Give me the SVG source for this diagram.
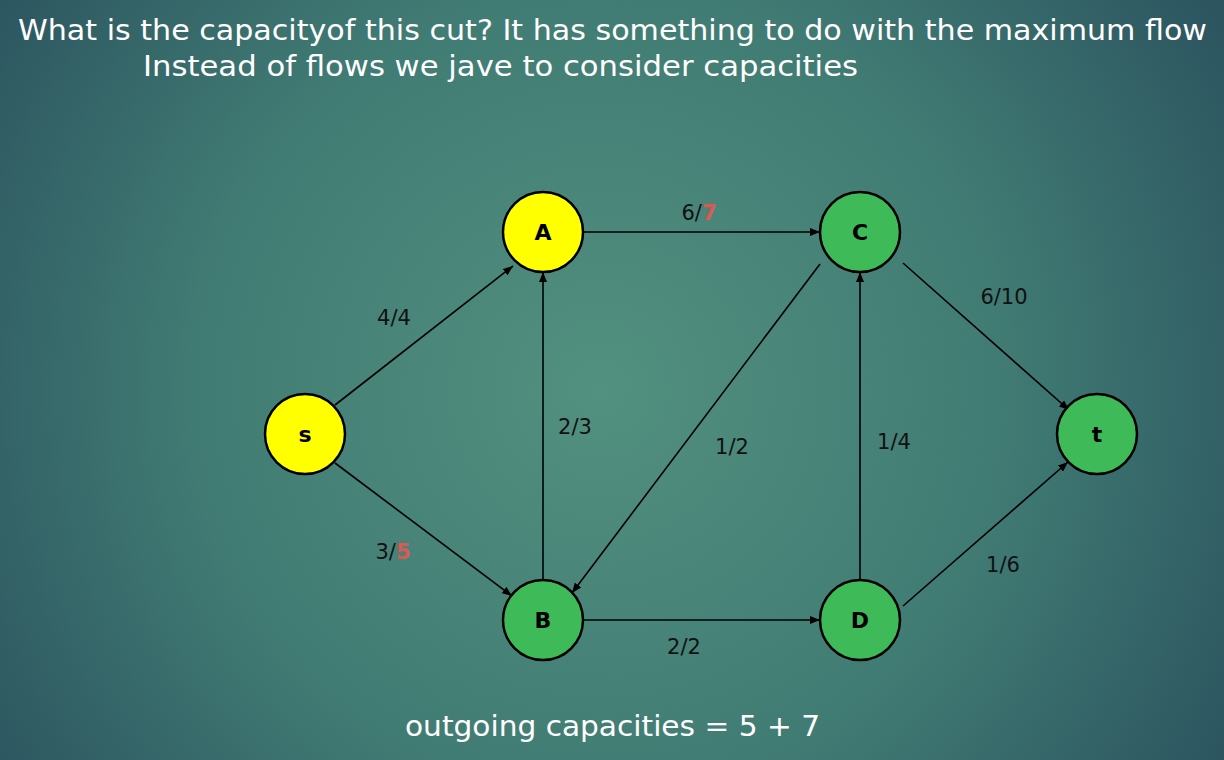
<svg xmlns="http://www.w3.org/2000/svg" width="1224" height="760" viewBox="0 0 1224 760">
<defs>
<radialGradient id="bg" cx="600" cy="390" r="720" gradientUnits="userSpaceOnUse">
<stop offset="0" stop-color="#52907f"/>
<stop offset="0.55" stop-color="#417c74"/>
<stop offset="1" stop-color="#2c5560"/>
</radialGradient>
<marker id="arr" viewBox="0 0 10 8" refX="10" refY="4" markerWidth="10" markerHeight="8" orient="auto" markerUnits="userSpaceOnUse">
<path d="M0,0 L10,4 L0,8 z" fill="#000"/>
</marker>
<style>
.edge{stroke:#000;stroke-width:1.6;fill:none;marker-end:url(#arr)}
.node{stroke:#000;stroke-width:2.5}
.y{fill:#ffff00}
.g{fill:#3fba58}
.nl{font-family:"DejaVu Sans",sans-serif;font-weight:bold;font-size:22px;fill:#000;text-anchor:middle}
.el{font-family:"DejaVu Sans",sans-serif;font-size:21px;fill:#111;text-anchor:middle}
.red{fill:#e0574f;font-weight:bold}
.t{font-family:"DejaVu Sans",sans-serif;font-size:29px;fill:#fff}
</style>
</defs>
<rect width="1224" height="760" fill="url(#bg)"/>
<g id="title">
<text class="t" x="18" y="40" textLength="1189" lengthAdjust="spacingAndGlyphs">What is the capacityof this cut? It has something to do with the maximum flow</text>
<text class="t" x="143" y="76" textLength="715" lengthAdjust="spacingAndGlyphs">Instead of flows we jave to consider capacities</text>
</g>
<g id="connectors">
<line class="edge" x1="335" y1="405" x2="513" y2="266"/>
<line class="edge" x1="335" y1="463" x2="512" y2="596"/>
<line class="edge" x1="583" y1="232" x2="820" y2="232"/>
<line class="edge" x1="543" y1="580" x2="543" y2="272"/>
<line class="edge" x1="820" y1="264" x2="572" y2="593"/>
<line class="edge" x1="860" y1="580" x2="860" y2="272"/>
<line class="edge" x1="583" y1="620" x2="820" y2="620"/>
<line class="edge" x1="903" y1="263" x2="1069" y2="410"/>
<line class="edge" x1="903" y1="606" x2="1068" y2="462"/>
</g>
<g id="edge-labels">
<text class="el" x="394" y="325">4/4</text>
<text class="el" x="393" y="559">3/<tspan class="red">5</tspan></text>
<text class="el" x="699" y="220">6/<tspan class="red">7</tspan></text>
<text class="el" x="575" y="434">2/3</text>
<text class="el" x="732" y="454">1/2</text>
<text class="el" x="894" y="449">1/4</text>
<text class="el" x="1004" y="304">6/10</text>
<text class="el" x="1003" y="572">1/6</text>
<text class="el" x="684" y="654">2/2</text>
</g>
<g id="node-s"><circle class="node y" cx="305" cy="434" r="40"/><text class="nl" x="305" y="442">s</text></g>
<g id="node-A"><circle class="node y" cx="543" cy="232" r="40"/><text class="nl" x="543" y="240">A</text></g>
<g id="node-B"><circle class="node g" cx="543" cy="620" r="40"/><text class="nl" x="543" y="628">B</text></g>
<g id="node-C"><circle class="node g" cx="860" cy="232" r="40"/><text class="nl" x="860" y="240">C</text></g>
<g id="node-D"><circle class="node g" cx="860" cy="620" r="40"/><text class="nl" x="860" y="628">D</text></g>
<g id="node-t"><circle class="node g" cx="1097" cy="434" r="40"/><text class="nl" x="1097" y="442">t</text></g>
<g id="footer">
<text class="t" x="405" y="736" textLength="415" lengthAdjust="spacingAndGlyphs">outgoing capacities = 5 + 7</text>
</g>
</svg>
